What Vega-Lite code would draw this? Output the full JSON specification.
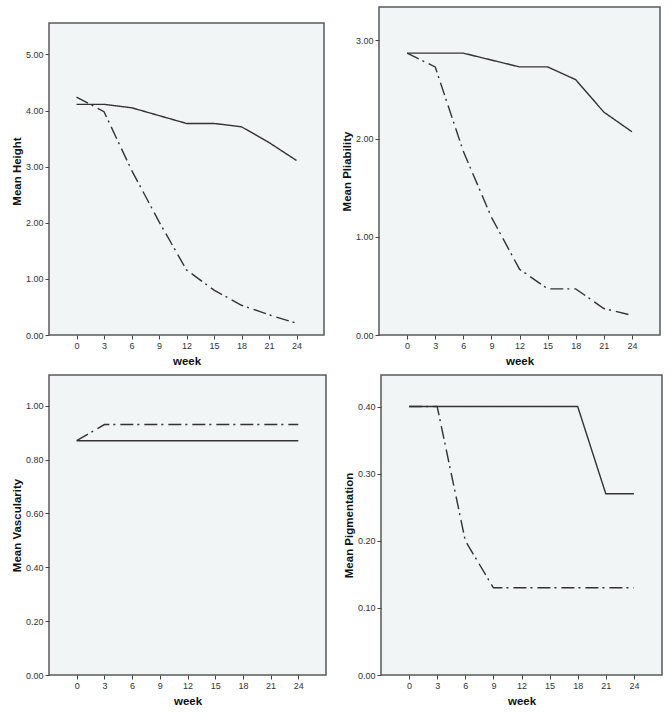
{
  "$schema": "https://vega.github.io/schema/vega-lite/v6.json",
  "padding": {"left": 10, "top": 6, "right": 5, "bottom": 5},
  "background": "white",
  "config": {
    "font": "Liberation Sans",
    "view": {"fill": "#f1f5f5", "stroke": "#5a5a5a", "strokeWidth": 1.5},
    "axis": {"domain": false, "grid": false, "tickColor": "#444", "tickSize": 4, "labelFontSize": 9, "labelColor": "#333", "titleFontSize": 11.5, "titleFontWeight": "bold", "titleColor": "#111", "labelPadding": 2, "labelOverlap": false},
    "axisY": {"minExtent": 22, "maxExtent": 22, "titlePadding": 5},
    "axisX": {"titlePadding": 5}
  },
  "datasets": {
    "d": [
      {"panel": "Height", "group": "A", "week": 0, "value": 4.11},
      {"panel": "Height", "group": "A", "week": 3, "value": 4.11},
      {"panel": "Height", "group": "A", "week": 6, "value": 4.05},
      {"panel": "Height", "group": "A", "week": 9, "value": 3.91},
      {"panel": "Height", "group": "A", "week": 12, "value": 3.77},
      {"panel": "Height", "group": "A", "week": 15, "value": 3.77},
      {"panel": "Height", "group": "A", "week": 18, "value": 3.71},
      {"panel": "Height", "group": "A", "week": 21, "value": 3.43},
      {"panel": "Height", "group": "A", "week": 24, "value": 3.11},
      {"panel": "Height", "group": "B", "week": 0, "value": 4.24},
      {"panel": "Height", "group": "B", "week": 3, "value": 3.98},
      {"panel": "Height", "group": "B", "week": 6, "value": 2.94},
      {"panel": "Height", "group": "B", "week": 9, "value": 2.02},
      {"panel": "Height", "group": "B", "week": 12, "value": 1.16},
      {"panel": "Height", "group": "B", "week": 15, "value": 0.80},
      {"panel": "Height", "group": "B", "week": 18, "value": 0.53},
      {"panel": "Height", "group": "B", "week": 21, "value": 0.36},
      {"panel": "Height", "group": "B", "week": 24, "value": 0.21},
      {"panel": "Pliability", "group": "A", "week": 0, "value": 2.87},
      {"panel": "Pliability", "group": "A", "week": 3, "value": 2.87},
      {"panel": "Pliability", "group": "A", "week": 6, "value": 2.87},
      {"panel": "Pliability", "group": "A", "week": 9, "value": 2.80},
      {"panel": "Pliability", "group": "A", "week": 12, "value": 2.73},
      {"panel": "Pliability", "group": "A", "week": 15, "value": 2.73},
      {"panel": "Pliability", "group": "A", "week": 18, "value": 2.60},
      {"panel": "Pliability", "group": "A", "week": 21, "value": 2.27},
      {"panel": "Pliability", "group": "A", "week": 24, "value": 2.07},
      {"panel": "Pliability", "group": "B", "week": 0, "value": 2.87},
      {"panel": "Pliability", "group": "B", "week": 3, "value": 2.73},
      {"panel": "Pliability", "group": "B", "week": 6, "value": 1.87},
      {"panel": "Pliability", "group": "B", "week": 9, "value": 1.20},
      {"panel": "Pliability", "group": "B", "week": 12, "value": 0.67},
      {"panel": "Pliability", "group": "B", "week": 15, "value": 0.47},
      {"panel": "Pliability", "group": "B", "week": 18, "value": 0.47},
      {"panel": "Pliability", "group": "B", "week": 21, "value": 0.27},
      {"panel": "Pliability", "group": "B", "week": 24, "value": 0.20},
      {"panel": "Vascularity", "group": "A", "week": 0, "value": 0.87},
      {"panel": "Vascularity", "group": "A", "week": 3, "value": 0.87},
      {"panel": "Vascularity", "group": "A", "week": 6, "value": 0.87},
      {"panel": "Vascularity", "group": "A", "week": 9, "value": 0.87},
      {"panel": "Vascularity", "group": "A", "week": 12, "value": 0.87},
      {"panel": "Vascularity", "group": "A", "week": 15, "value": 0.87},
      {"panel": "Vascularity", "group": "A", "week": 18, "value": 0.87},
      {"panel": "Vascularity", "group": "A", "week": 21, "value": 0.87},
      {"panel": "Vascularity", "group": "A", "week": 24, "value": 0.87},
      {"panel": "Vascularity", "group": "B", "week": 0, "value": 0.87},
      {"panel": "Vascularity", "group": "B", "week": 3, "value": 0.93},
      {"panel": "Vascularity", "group": "B", "week": 6, "value": 0.93},
      {"panel": "Vascularity", "group": "B", "week": 9, "value": 0.93},
      {"panel": "Vascularity", "group": "B", "week": 12, "value": 0.93},
      {"panel": "Vascularity", "group": "B", "week": 15, "value": 0.93},
      {"panel": "Vascularity", "group": "B", "week": 18, "value": 0.93},
      {"panel": "Vascularity", "group": "B", "week": 21, "value": 0.93},
      {"panel": "Vascularity", "group": "B", "week": 24, "value": 0.93},
      {"panel": "Pigmentation", "group": "A", "week": 0, "value": 0.40},
      {"panel": "Pigmentation", "group": "A", "week": 3, "value": 0.40},
      {"panel": "Pigmentation", "group": "A", "week": 6, "value": 0.40},
      {"panel": "Pigmentation", "group": "A", "week": 9, "value": 0.40},
      {"panel": "Pigmentation", "group": "A", "week": 12, "value": 0.40},
      {"panel": "Pigmentation", "group": "A", "week": 15, "value": 0.40},
      {"panel": "Pigmentation", "group": "A", "week": 18, "value": 0.40},
      {"panel": "Pigmentation", "group": "A", "week": 21, "value": 0.27},
      {"panel": "Pigmentation", "group": "A", "week": 24, "value": 0.27},
      {"panel": "Pigmentation", "group": "B", "week": 0, "value": 0.40},
      {"panel": "Pigmentation", "group": "B", "week": 3, "value": 0.40},
      {"panel": "Pigmentation", "group": "B", "week": 6, "value": 0.20},
      {"panel": "Pigmentation", "group": "B", "week": 9, "value": 0.13},
      {"panel": "Pigmentation", "group": "B", "week": 12, "value": 0.13},
      {"panel": "Pigmentation", "group": "B", "week": 15, "value": 0.13},
      {"panel": "Pigmentation", "group": "B", "week": 18, "value": 0.13},
      {"panel": "Pigmentation", "group": "B", "week": 21, "value": 0.13},
      {"panel": "Pigmentation", "group": "B", "week": 24, "value": 0.13}
    ]
  },
  "spacing": 6,
  "vconcat": [
    {
      "spacing": 15,
      "hconcat": [
        {
          "width": 275, "height": 328,
          "view": {"fill": null, "stroke": null},
          "layer": [
            {
              "data": {"values": [{"frame": "plot"}]},
              "mark": {"type": "rect", "fill": "#f1f5f5", "stroke": "#5a5a5a", "strokeWidth": 1.5},
              "encoding": {
                "x": {"datum": -3, "type": "quantitative", "scale": {"domain": [-3, 27], "nice": false, "zero": false}, "axis": {"values": [0, 3, 6, 9, 12, 15, 18, 21, 24], "title": "week"}},
                "x2": {"datum": 27},
                "y": {"datum": 0, "type": "quantitative", "scale": {"domain": [0, 5.845], "nice": false}, "axis": {"values": [0, 1, 2, 3, 4, 5], "format": ".2f", "title": "Mean Height"}},
                "y2": {"datum": 5.56}
              }
            },
            {
              "data": {"name": "d"},
              "transform": [{"filter": "datum.panel === 'Height'"}],
              "mark": {"type": "line", "color": "#333", "strokeWidth": 1.4},
              "encoding": {
                "x": {"field": "week", "type": "quantitative", "scale": {"domain": [-3, 27], "nice": false, "zero": false}, "axis": {"values": [0, 3, 6, 9, 12, 15, 18, 21, 24], "title": "week"}},
                "y": {"field": "value", "type": "quantitative", "scale": {"domain": [0, 5.845], "nice": false}, "axis": {"values": [0, 1, 2, 3, 4, 5], "format": ".2f", "title": "Mean Height"}},
                "strokeDash": {"field": "group", "type": "nominal", "scale": {"domain": ["A", "B"], "range": [[1, 0], [13, 4, 2, 5]]}, "legend": null}
              }
            }
          ]
        },
        {
          "width": 281, "height": 328,
          "data": {"name": "d"},
          "transform": [{"filter": "datum.panel === 'Pliability'"}],
          "mark": {"type": "line", "color": "#333", "strokeWidth": 1.4},
          "encoding": {
            "x": {"field": "week", "type": "quantitative", "scale": {"domain": [-3, 27], "nice": false, "zero": false}, "axis": {"values": [0, 3, 6, 9, 12, 15, 18, 21, 24], "title": "week"}},
            "y": {"field": "value", "type": "quantitative", "scale": {"domain": [0, 3.34], "nice": false}, "axis": {"values": [0, 1, 2, 3], "format": ".2f", "title": "Mean Pliability"}},
            "strokeDash": {"field": "group", "type": "nominal", "scale": {"domain": ["A", "B"], "range": [[1, 0], [13, 4, 2, 5]]}, "legend": null}
          }
        }
      ]
    },
    {
      "spacing": 15,
      "hconcat": [
        {
          "width": 277, "height": 300,
          "data": {"name": "d"},
          "transform": [{"filter": "datum.panel === 'Vascularity'"}],
          "mark": {"type": "line", "color": "#333", "strokeWidth": 1.4},
          "encoding": {
            "x": {"field": "week", "type": "quantitative", "scale": {"domain": [-3, 27], "nice": false, "zero": false}, "axis": {"values": [0, 3, 6, 9, 12, 15, 18, 21, 24], "title": "week"}},
            "y": {"field": "value", "type": "quantitative", "scale": {"domain": [0, 1.114], "nice": false}, "axis": {"values": [0, 0.2, 0.4, 0.6, 0.8, 1.0], "format": ".2f", "title": "Mean Vascularity"}},
            "strokeDash": {"field": "group", "type": "nominal", "scale": {"domain": ["A", "B"], "range": [[1, 0], [13, 4, 2, 5]]}, "legend": null}
          }
        },
        {
          "width": 281, "height": 300,
          "data": {"name": "d"},
          "transform": [{"filter": "datum.panel === 'Pigmentation'"}],
          "mark": {"type": "line", "color": "#333", "strokeWidth": 1.4},
          "encoding": {
            "x": {"field": "week", "type": "quantitative", "scale": {"domain": [-3, 27], "nice": false, "zero": false}, "axis": {"values": [0, 3, 6, 9, 12, 15, 18, 21, 24], "title": "week"}},
            "y": {"field": "value", "type": "quantitative", "scale": {"domain": [0, 0.447], "nice": false}, "axis": {"values": [0, 0.1, 0.2, 0.3, 0.4], "format": ".2f", "title": "Mean Pigmentation"}},
            "strokeDash": {"field": "group", "type": "nominal", "scale": {"domain": ["A", "B"], "range": [[1, 0], [13, 4, 2, 5]]}, "legend": null}
          }
        }
      ]
    }
  ]
}
